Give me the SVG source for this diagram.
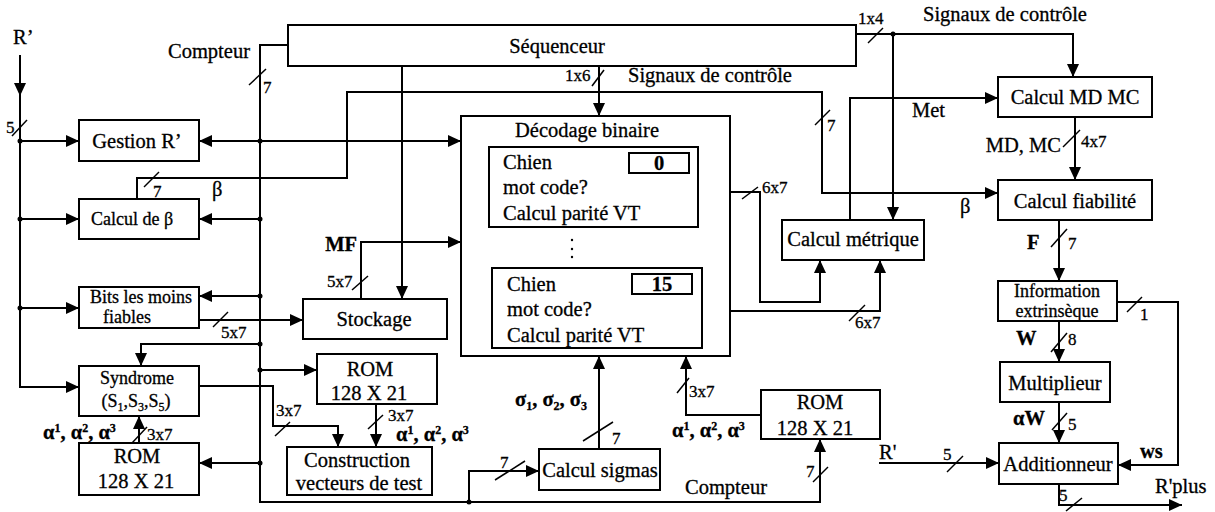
<svg xmlns="http://www.w3.org/2000/svg" width="1215" height="512" viewBox="0 0 1215 512" font-family="'Liberation Serif', 'Times New Roman', serif">
<defs>
<marker id="ah" markerWidth="13" markerHeight="12" refX="13" refY="6" orient="auto" markerUnits="userSpaceOnUse"><path d="M0,0 L13,6 L0,12 z" fill="#000"/></marker>
<style>
.box{fill:#fff;stroke:#000;stroke-width:2}
.ln{fill:none;stroke:#000;stroke-width:2}
.ar{fill:none;stroke:#000;stroke-width:2;marker-end:url(#ah)}
.sl{stroke:#000;stroke-width:1.5}
.t{font-family:'Liberation Serif','Times New Roman',serif;font-size:20.5px;fill:#000;stroke:#000;stroke-width:0.3}
.s{font-size:17px}
.f{font-size:18px}
.m{text-anchor:middle}
.e{text-anchor:end}
.b{font-weight:bold}
</style>
</defs>
<rect width="1215" height="512" fill="#fff"/>

<g id="connectors">
<path class="ar" d="M20,55 V96"/>
<path class="ar" d="M20,95 V387 H79"/>
<path class="ar" d="M20,141 H79"/>
<path class="ar" d="M20,219 H79"/>
<path class="ar" d="M20,308 H79"/>
<path class="ar" d="M288,45 H260 V502 H820 V439"/>
<path class="ar" d="M260,141 H199"/>
<path class="ar" d="M260,141 H461"/>
<path class="ar" d="M260,219 H199"/>
<path class="ar" d="M260,296 H199"/>
<path class="ar" d="M260,344 H141 V366"/>
<path class="ar" d="M260,370 H317"/>
<path class="ar" d="M260,463 H199"/>
<path class="ar" d="M469,502 V471 H539"/>
<path class="ar" d="M137,199 V178 H347 V92 H822 V193 H998"/>
<path class="ar" d="M599,66 V116"/>
<path class="ar" d="M402,66 V299"/>
<path class="ar" d="M856,34 H1073 V77"/>
<path class="ar" d="M893,34 V220"/>
<path class="ar" d="M850,220 V98 H998"/>
<path class="ar" d="M698,192 H760 V302 H820 V260"/>
<path class="ar" d="M702,311 H880 V260"/>
<path class="ar" d="M1075,117 V180"/>
<path class="ar" d="M1059,220 V281"/>
<path class="ar" d="M1059,321 V362"/>
<path class="ar" d="M1059,402 V443"/>
<path class="ar" d="M1117,302 H1178 V465 H1118"/>
<path class="ar" d="M879,463 H999"/>
<path class="ar" d="M1059,484 V505 H1182"/>
<path class="ar" d="M199,320 H303"/>
<path class="ar" d="M361,299 V242 H461"/>
<path class="ar" d="M199,386 H273 V426 H338 V447"/>
<path class="ar" d="M376,404 V447"/>
<path class="ar" d="M139,443 V416"/>
<path class="ar" d="M599,449 V356"/>
<path class="ar" d="M761,415 H686 V356"/>
<g fill="#000">
<circle cx="20" cy="141" r="2.5"/><circle cx="20" cy="219" r="2.5"/><circle cx="20" cy="308" r="2.5"/>
<circle cx="260" cy="141" r="2.5"/><circle cx="260" cy="219" r="2.5"/><circle cx="260" cy="296" r="2.5"/>
<circle cx="260" cy="344" r="2.5"/><circle cx="260" cy="370" r="2.5"/><circle cx="260" cy="463" r="2.5"/>
<circle cx="469" cy="502" r="2.5"/><circle cx="893" cy="34" r="2.5"/>
</g>
<g class="sl">
<line x1="12" y1="136" x2="27" y2="120"/>
<line x1="249" y1="85" x2="266" y2="69"/>
<line x1="144" y1="187" x2="159" y2="172"/>
<line x1="815" y1="125" x2="830" y2="110"/>
<line x1="592" y1="86" x2="604" y2="70"/>
<line x1="868" y1="43" x2="883" y2="28"/>
<line x1="742" y1="199" x2="758" y2="187"/>
<line x1="849" y1="321" x2="865" y2="305"/>
<line x1="1063" y1="147" x2="1080" y2="130"/>
<line x1="1051" y1="247" x2="1067" y2="229"/>
<line x1="1051" y1="352" x2="1067" y2="333"/>
<line x1="1052" y1="430" x2="1067" y2="413"/>
<line x1="1127" y1="312" x2="1142" y2="297"/>
<line x1="947" y1="472" x2="963" y2="456"/>
<line x1="1066" y1="511" x2="1082" y2="498"/>
<line x1="213" y1="327" x2="228" y2="312"/>
<line x1="352" y1="290" x2="368" y2="276"/>
<line x1="275" y1="436" x2="290" y2="422"/>
<line x1="368" y1="429" x2="383" y2="415"/>
<line x1="132" y1="443" x2="147" y2="427"/>
<line x1="583" y1="441" x2="613" y2="422"/>
<line x1="677" y1="393" x2="689" y2="378"/>
<line x1="495" y1="480" x2="525" y2="461"/>
<line x1="813" y1="482" x2="828" y2="467"/>
</g>
<g class="t">
<text x="13" y="44">R’</text>
<text class="s" x="6" y="133">5</text>
<text class="e" x="250" y="58">Compteur</text>
<text class="s" x="263" y="93">7</text>
<text class="s" x="153" y="197">7</text>
<text x="212" y="196">β</text>
<text class="s" x="827" y="131">7</text>
<text x="960" y="213">β</text>
<text class="s" x="565" y="81">1x6</text>
<text x="628" y="82">Signaux de contrôle</text>
<text class="s" x="858" y="24">1x4</text>
<text x="923" y="21">Signaux de contrôle</text>
<text x="912" y="117">Met</text>
<text class="s" x="762" y="193">6x7</text>
<text class="s" x="855" y="328">6x7</text>
<text class="e" x="1061" y="152">MD, MC</text>
<text class="s" x="1081" y="147">4x7</text>
<text class="b" x="1027" y="249">F</text>
<text class="s" x="1068" y="249">7</text>
<text class="b" x="1016" y="345">W</text>
<text class="s" x="1068" y="345">8</text>
<text class="b" x="1013" y="425">αW</text>
<text class="s" x="1068" y="430">5</text>
<text class="s" x="1140" y="320">1</text>
<text class="b" x="1140" y="458">ws</text>
<text x="879" y="459">R'</text>
<text class="s" x="943" y="460">5</text>
<text class="s" x="1059" y="501">5</text>
<text x="1155" y="493">R'plus</text>
<text class="s" x="221" y="338">5x7</text>
<text class="b e" x="357" y="251">MF</text>
<text class="s" x="327" y="287">5x7</text>
<text class="s" x="276" y="416">3x7</text>
<text class="s" x="388" y="421">3x7</text>
<text class="b" x="396" y="441">α<tspan dy="-7" font-size="12">1</tspan><tspan dy="7">, α</tspan><tspan dy="-7" font-size="12">2</tspan><tspan dy="7">, α</tspan><tspan dy="-7" font-size="12">3</tspan></text>
<text class="s" x="147" y="440">3x7</text>
<text class="b" x="43" y="439">α<tspan dy="-7" font-size="12">1</tspan><tspan dy="7">, α</tspan><tspan dy="-7" font-size="12">2</tspan><tspan dy="7">, α</tspan><tspan dy="-7" font-size="12">3</tspan></text>
<text class="s" x="612" y="444">7</text>
<text class="b" x="515" y="406">σ<tspan dy="4" font-size="12">1</tspan><tspan dy="-4">, σ</tspan><tspan dy="4" font-size="12">2</tspan><tspan dy="-4">, σ</tspan><tspan dy="4" font-size="12">3</tspan></text>
<text class="s" x="689" y="397">3x7</text>
<text class="b" x="672" y="437">α<tspan dy="-7" font-size="12">1</tspan><tspan dy="7">, α</tspan><tspan dy="-7" font-size="12">2</tspan><tspan dy="7">, α</tspan><tspan dy="-7" font-size="12">3</tspan></text>
<text class="s" x="500" y="468">7</text>
<text x="685" y="494">Compteur</text>
<text class="s" x="806" y="477">7</text>
</g>
</g>

<g id="sequenceur"><rect class="box" x="288" y="25" width="568" height="41"/><text class="t m" x="557" y="53">Séquenceur</text></g>
<g id="gestion"><rect class="box" x="79" y="120" width="120" height="41"/><text class="t m" x="137" y="148">Gestion R’</text></g>
<g id="calcul-beta"><rect class="box" x="79" y="199" width="120" height="40"/><text class="t f m" x="132" y="225">Calcul de β</text></g>
<g id="bits"><rect class="box" x="79" y="287" width="120" height="41"/><text class="t f m" x="141" y="303">Bits les moins</text><text class="t f m" x="127" y="323">fiables</text></g>
<g id="syndrome"><rect class="box" x="79" y="366" width="120" height="50"/><text class="t f m" x="137" y="384">Syndrome</text><text class="t f m" x="136" y="407">(S<tspan dy="4" font-size="12">1</tspan><tspan dy="-4">,S</tspan><tspan dy="4" font-size="12">3</tspan><tspan dy="-4">,S</tspan><tspan dy="4" font-size="12">5</tspan><tspan dy="-4">)</tspan></text></g>
<g id="rom-left"><rect class="box" x="79" y="443" width="120" height="52"/><text class="t m" x="137" y="463">ROM</text><text class="t m" x="136" y="488">128 X 21</text></g>
<g id="rom-center"><rect class="box" x="317" y="354" width="120" height="50"/><text class="t m" x="370" y="376">ROM</text><text class="t m" x="369" y="400">128 X 21</text></g>
<g id="construction"><rect class="box" x="287" y="447" width="145" height="48"/><text class="t m" x="357" y="467">Construction</text><text class="t m" x="359" y="490">vecteurs de test</text></g>
<g id="stockage"><rect class="box" x="303" y="299" width="144" height="40"/><text class="t m" x="374" y="326">Stockage</text></g>
<g id="decodage">
<rect class="box" x="461" y="116" width="269" height="240"/>
<text class="t m" x="587" y="137">Décodage binaire</text>
<rect class="box" x="489" y="147" width="209" height="80"/>
<rect class="box" x="629" y="153" width="60" height="20"/>
<text class="t b m" x="659" y="170">0</text>
<text class="t" x="503" y="169">Chien</text>
<text class="t" x="503" y="194">mot code?</text>
<text class="t" x="503" y="220">Calcul parité VT</text>
<g fill="#000"><circle cx="572" cy="240" r="1.2"/><circle cx="572" cy="249" r="1.2"/><circle cx="572" cy="257" r="1.2"/></g>
<rect class="box" x="492" y="268" width="210" height="80"/>
<rect class="box" x="632" y="274" width="60" height="20"/>
<text class="t b m" x="662" y="291">15</text>
<text class="t" x="507" y="291">Chien</text>
<text class="t" x="507" y="316">mot code?</text>
<text class="t" x="507" y="342">Calcul parité VT</text>
</g>
<g id="calcul-metrique"><rect class="box" x="782" y="220" width="142" height="40"/><text class="t m" x="853" y="246">Calcul métrique</text></g>
<g id="calcul-mdmc"><rect class="box" x="998" y="77" width="154" height="40"/><text class="t m" x="1075" y="104">Calcul MD MC</text></g>
<g id="calcul-fiabilite"><rect class="box" x="998" y="180" width="154" height="40"/><text class="t m" x="1075" y="208">Calcul fiabilité</text></g>
<g id="information"><rect class="box" x="998" y="281" width="119" height="40"/><text class="t f m" x="1057" y="297">Information</text><text class="t f m" x="1057" y="317">extrinsèque</text></g>
<g id="multiplieur"><rect class="box" x="1000" y="362" width="110" height="40"/><text class="t m" x="1055" y="390">Multiplieur</text></g>
<g id="additionneur"><rect class="box" x="999" y="443" width="119" height="41"/><text class="t m" x="1058" y="471">Additionneur</text></g>
<g id="calcul-sigmas"><rect class="box" x="539" y="449" width="121" height="41"/><text class="t m" x="600" y="477">Calcul sigmas</text></g>
<g id="rom-right"><rect class="box" x="761" y="390" width="119" height="49"/><text class="t m" x="820" y="409">ROM</text><text class="t m" x="815" y="435">128 X 21</text></g>
</svg>
